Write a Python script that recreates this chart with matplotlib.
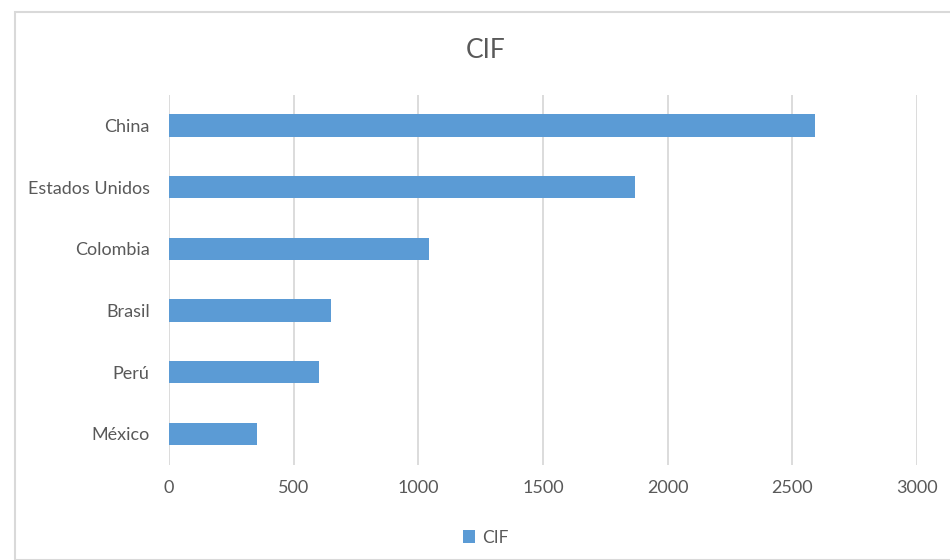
import matplotlib.pyplot as plt
from matplotlib.patches import Rectangle

paises = ['China', 'Estados Unidos', 'Colombia', 'Brasil', 'Perú', 'México']
cif = [2590, 1868, 1044, 648, 601, 354]
xticks = [0, 500, 1000, 1500, 2000, 2500, 3000]

plt.rcParams['font.family'] = ['Lato', 'DejaVu Sans']
gris = '#595959'
azul = '#5b9bd5'

fig = plt.figure(figsize=(9.5, 5.6), dpi=100)
ax = fig.add_axes([0.178, 0.170, 0.787, 0.661])

y = list(range(len(paises)))
ax.barh(y, cif, height=0.36, color=azul, label='CIF', zorder=3)
ax.set_ylim(len(paises) - 0.5, -0.5)
ax.set_yticks(y)
ax.set_yticklabels(paises, fontsize=13, color=gris)
ax.set_xlim(0, 3000)
ax.set_xticks(xticks)
ax.set_xticklabels([str(v) for v in xticks], fontsize=13, color=gris)
ax.grid(axis='x', color='#d9d9d9', lw=1.3, zorder=0)
ax.tick_params(length=0, pad=14)
ax.tick_params(axis='x', pad=11)
for s in ax.spines.values():
    s.set_visible(False)

fig.text(0.511, 0.91, 'CIF', ha='center', va='center', fontsize=19, color=gris)
fig.legend(loc='center', bbox_to_anchor=(0.511, 0.04), frameon=False,
           fontsize=12.5, labelcolor=gris, handlelength=0.7, handleheight=0.7,
           handletextpad=0.4)

fig.patches.append(Rectangle((15 / 950, 0.0), 940 / 950, 1 - 12 / 560,
                             transform=fig.transFigure, fill=False,
                             ec='#d9d9d9', lw=1.5))

fig.savefig('out.png', dpi=100)
